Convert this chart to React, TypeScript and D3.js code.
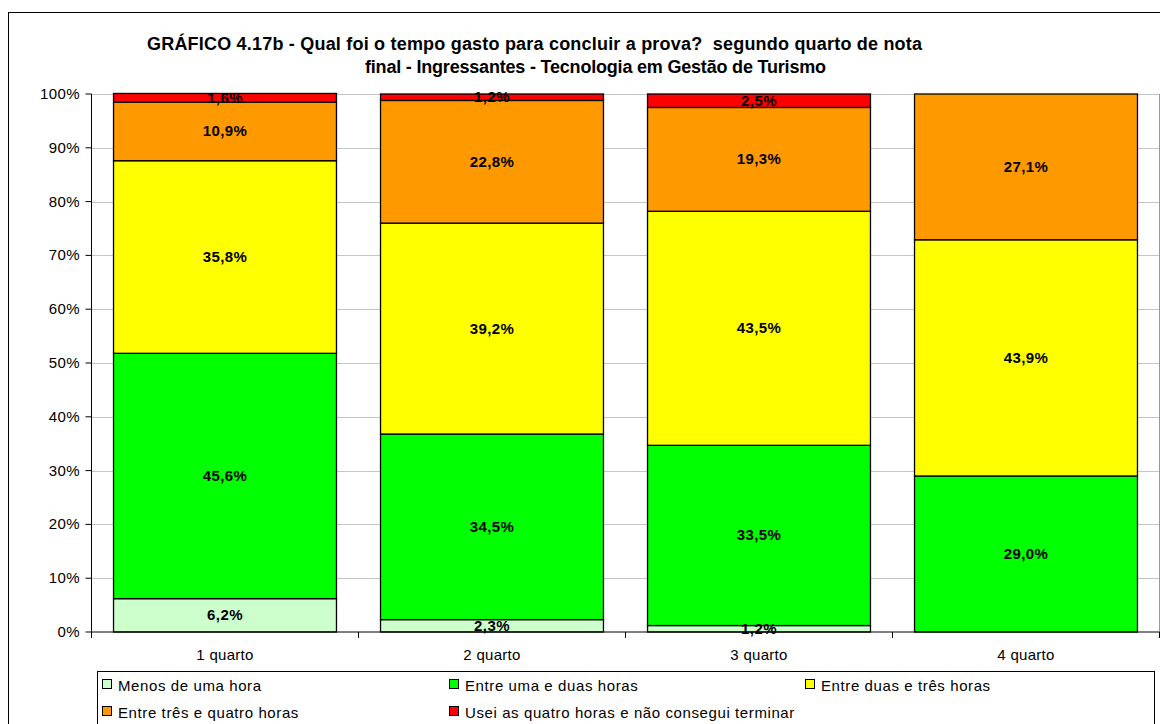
import React from "react";
import * as d3 from "d3";

const categories = ["1 quarto", "2 quarto", "3 quarto", "4 quarto"];
const seriesNames = [
  "Menos de uma hora",
  "Entre uma e duas horas",
  "Entre duas e três horas",
  "Entre três e quatro horas",
  "Usei as quatro horas e não consegui terminar",
];
const menosUmaHora = [6.2, 2.3, 1.2, 0];
const umaDuasHoras = [45.6, 34.5, 33.5, 29.0];
const duasTresHoras = [35.8, 39.2, 43.5, 43.9];
const tresQuatroHoras = [10.9, 22.8, 19.3, 27.1];
const naoTerminou = [1.6, 1.2, 2.5, 0];
const yTicks = [0, 10, 20, 30, 40, 50, 60, 70, 80, 90, 100];
const colors = ["#CCFFCC", "#00FF00", "#FFFF00", "#FF9900", "#FF0000"];

const titleLine1 = "GRÁFICO 4.17b - Qual foi o tempo gasto para concluir a prova?  segundo quarto de nota";
const titleLine2 = "final - Ingressantes - Tecnologia em Gestão de Turismo";

export default function App() {
  const W = 1160, H = 724;
  const left = 91.5, right = 1159.5, top = 94, bottom = 632;
  const x = d3.scaleBand<string>().domain(categories).range([left, right]).paddingInner(0.165).paddingOuter(0.0825);
  const y = d3.scaleLinear().domain([0, 100]).range([bottom, top]);

  const rows = categories.map((c, i) => ({
    cat: c,
    s0: menosUmaHora[i],
    s1: umaDuasHoras[i],
    s2: duasTresHoras[i],
    s3: tresQuatroHoras[i],
    s4: naoTerminou[i],
  }));
  const stack = d3.stack<any>().keys(["s0", "s1", "s2", "s3", "s4"]);
  const series = stack(rows);
  const font = "Arial, 'Liberation Sans', sans-serif";
  const fmt = (v: number) => v.toFixed(1).replace(".", ",") + "%";

  const legendItems = seriesNames.map((n, i) => ({
    name: n,
    color: colors[i],
    x: [102, 449, 805, 102, 449][i],
    y: [686, 686, 686, 713, 713][i],
  }));

  return (
    <svg width={W} height={H} style={{ position: "absolute", left: 0, top: 0, background: "#fff" }} fontFamily={font}>
      <rect x={8.5} y={12.5} width={1200} height={800} fill="#fff" stroke="#000" strokeWidth={1} />
      <text x={147} y={50} fontSize={18} fontWeight="bold" textLength={775} lengthAdjust="spacing"
        style={{ whiteSpace: "pre" }}>{titleLine1}</text>
      <text x={365} y={73} fontSize={18} fontWeight="bold" textLength={461} lengthAdjust="spacing">{titleLine2}</text>

      {/* plot area border + gridlines */}
      <line x1={right} x2={right} y1={top} y2={bottom} stroke="#999" />
      {yTicks.filter(t => t > 0).map(t => (
        <line key={t} x1={left} x2={right} y1={Math.round(y(t)) + 0.5} y2={Math.round(y(t)) + 0.5}
          stroke="#888" strokeDasharray="1,1" />
      ))}

      {/* bars */}
      {series.map((s, si) =>
        s.map((d, i) => {
          const v = d[1] - d[0];
          if (v <= 0) return null;
          return (
            <rect key={si + "-" + i} x={x(categories[i])!} y={y(d[1])} width={x.bandwidth()}
              height={y(d[0]) - y(d[1])} fill={colors[si]} stroke="#000" strokeWidth={1.3} />
          );
        })
      )}
      {series.map((s, si) =>
        s.map((d, i) => {
          const v = d[1] - d[0];
          if (v <= 0) return null;
          return (
            <text key={"t" + si + "-" + i} x={x(categories[i])! + x.bandwidth() / 2} y={(y(d[0]) + y(d[1])) / 2 + 5}
              textAnchor="middle" fontSize={15} letterSpacing={0.4} fontWeight="bold">{fmt(v)}</text>
          );
        })
      )}

      {/* axes */}
      <line x1={left} x2={left} y1={top} y2={bottom} stroke="#000" />
      <line x1={left} x2={right} y1={bottom} y2={bottom} stroke="#000" />
      {yTicks.map(t => (
        <g key={"yt" + t}>
          <line x1={left - 6} x2={left} y1={y(t)} y2={y(t)} stroke="#000" />
          <text x={80} y={y(t) + 5} textAnchor="end" fontSize={15} letterSpacing={0.4}>{t}%</text>
        </g>
      ))}
      {[0, 1, 2, 3, 4].map(k => (
        <line key={"xt" + k} x1={left + k * x.step()} x2={left + k * x.step()} y1={bottom} y2={bottom + 6} stroke="#000" />
      ))}
      {categories.map(c => (
        <text key={c} x={x(c)! + x.bandwidth() / 2} y={660} textAnchor="middle" fontSize={15} letterSpacing={0.3}>{c}</text>
      ))}

      {/* legend */}
      <rect x={97.5} y={671.5} width={1057} height={80} fill="#fff" stroke="#000" />
      {legendItems.map(it => (
        <g key={it.name}>
          <rect x={it.x + 0.5} y={it.y - 6.5} width={9} height={9} fill={it.color} stroke="#000" />
          <text x={it.x + 16} y={it.y + 5} fontSize={15} letterSpacing={0.6}>{it.name}</text>
        </g>
      ))}
    </svg>
  );
}
